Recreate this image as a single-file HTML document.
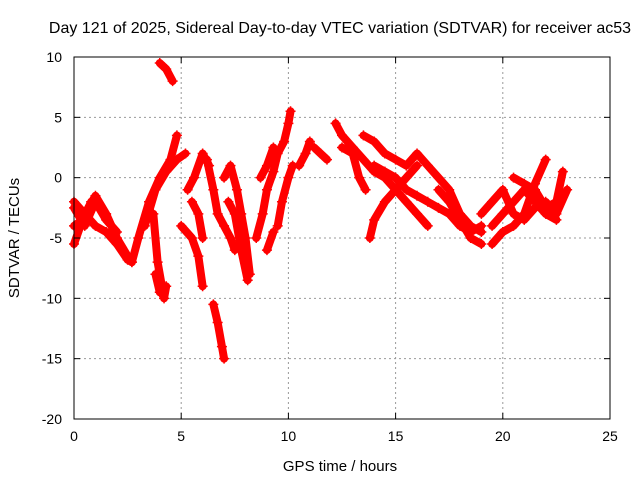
<!DOCTYPE html>
<html><head><meta charset="utf-8"><style>
body{margin:0;background:#fff}
svg{display:block;font-family:"Liberation Sans",sans-serif}
</style></head><body>
<svg id="chart" width="640" height="480" viewBox="0 0 640 480">
<text x="340" y="33" font-size="16" text-anchor="middle">Day 121 of 2025, Sidereal Day-to-day VTEC variation (SDTVAR) for receiver ac53</text>
<text x="340" y="471" font-size="15" text-anchor="middle">GPS time / hours</text>
<text transform="translate(19,238) rotate(-90)" font-size="15" text-anchor="middle">SDTVAR / TECUs</text>
<g id="grid"></g><g id="marks"></g><g id="axes"></g>
</svg>
<script>
const xTicks=[0,5,10,15,20,25];
const yTicks=[10,5,0,-5,-10,-15,-20];
const tracks=[
[[0,-2],[0.5,-3],[1,-4],[1.5,-4.5],[2,-5.5],[2.5,-6.8],[2.7,-7]],
[[0,-5.5],[0.5,-3],[1,-1.5],[1.5,-3],[2,-5],[2.5,-6.5]],
[[0,-2.5],[0.5,-4],[1,-2],[1.5,-3.5],[2,-4.5]],
[[0,-4],[0.4,-3.5],[0.8,-2],[1.2,-2.5]],
[[2.7,-7],[3,-5],[3.5,-2],[4,0],[4.5,1.5],[4.8,3.5]],
[[3.3,-4],[3.8,-1],[4.3,0.5],[4.8,1.5],[5.2,2]],
[[3.7,-3],[3.9,-7],[4.1,-9],[4.2,-10],[4.3,-9]],
[[4.0,9.5],[4.3,9],[4.6,8]],
[[3.8,-8],[4.0,-9.5]],
[[5,-4],[5.5,-5],[5.8,-6.5],[6,-9]],
[[5.3,-1],[5.6,0],[6,2],[6.3,1]],
[[5.5,-2],[5.8,-3],[6,-5]],
[[6.2,1.5],[6.5,-1],[6.7,-3],[7,-4],[7.3,-5],[7.5,-6]],
[[6.5,-10.5],[6.7,-12],[6.9,-14],[7,-15]],
[[7,0],[7.3,1],[7.6,-1],[7.8,-3],[8,-5],[8.2,-8]],
[[7.2,-2],[7.5,-3],[7.8,-6],[8.1,-8.5]],
[[8.5,-5],[8.8,-3],[9,-1],[9.3,0.5],[9.5,2],[9.8,3],[10,4.5],[10.1,5.5]],
[[8.7,0],[9,1],[9.3,2.5]],
[[9.5,-4],[9.7,-2],[10,0],[10.2,1]],
[[9,-6],[9.3,-4.5]],
[[10.5,1],[10.8,2],[11,3]],
[[11.2,2.5],[11.5,2],[11.8,1.5]],
[[12.2,4.5],[12.5,3.5],[13,2.5],[13.5,1.5],[14,0.5],[14.5,0],[15,-1],[15.5,-2],[16,-3],[16.5,-4]],
[[12.5,2.5],[13,2],[13.3,0],[13.6,-1]],
[[13.8,-5],[14,-3.5],[14.5,-2],[15,-1],[15.5,0],[16,1]],
[[13.5,3.5],[14,3],[14.5,2],[15,1.5],[15.5,1],[16,2],[16.5,1],[17,0],[17.5,-1],[18,-3],[18.5,-4],[19,-4.5]],
[[14,1],[14.5,0.5],[15,0],[15.5,-1],[16,-1.5],[16.5,-2],[17,-2.5],[17.5,-3],[18,-4],[18.5,-4.5],[19,-4]],
[[17,-1],[17.5,-2],[18,-3.5],[18.5,-5],[19,-5.5]],
[[19,-3],[19.5,-2],[20,-1],[20.5,-3],[21,-3.5],[21.5,-2.5],[22,-2],[22.5,-3],[23,-1]],
[[19.5,-5.5],[20,-4.5],[20.5,-4],[21,-3],[21.5,-0.5],[22,1.5]],
[[20.5,0],[21,-0.5],[21.5,-1],[22,-2.5],[22.5,-2],[22.8,0.5]],
[[19.5,-4],[20,-3],[20.5,-2],[21,-1],[21.5,-2],[22,-3],[22.5,-3.5]]
];
const L=74,R=610,T=57,B=419,X0=0,X1=25,Y0=-20,Y1=10;
const sx=v=>L+(v-X0)/(X1-X0)*(R-L);
const sy=v=>B-(v-Y0)/(Y1-Y0)*(B-T);
const NS="http://www.w3.org/2000/svg";
function mk(t,a,p){const e=document.createElementNS(NS,t);for(const k in a)e.setAttribute(k,a[k]);p.appendChild(e);return e;}
const grid=document.getElementById('grid'),axes=document.getElementById('axes'),marks=document.getElementById('marks');
xTicks.forEach(v=>{
 if(v>X0&&v<X1){const g=mk('line',{x1:sx(v),x2:sx(v),y1:T,y2:B,stroke:'#999','stroke-dasharray':'2,3'},grid);
 
 }
 mk('line',{x1:sx(v),x2:sx(v),y1:B,y2:B-6,stroke:'#000'},axes);
 mk('line',{x1:sx(v),x2:sx(v),y1:T,y2:T+6,stroke:'#000'},axes);
 const t=mk('text',{x:sx(v),y:B+22,'font-size':14,'text-anchor':'middle'},axes);t.textContent=v;
 
 
});
yTicks.forEach(v=>{
 if(v>Y0&&v<Y1){const g=mk('line',{x1:L,x2:R,y1:sy(v),y2:sy(v),stroke:'#999','stroke-dasharray':'2,3'},grid);
 
 }
 mk('line',{x1:L,x2:L+6,y1:sy(v),y2:sy(v),stroke:'#000'},axes);
 mk('line',{x1:R,x2:R-6,y1:sy(v),y2:sy(v),stroke:'#000'},axes);
 const t=mk('text',{x:L-12,y:sy(v)+5,'font-size':14,'text-anchor':'end'},axes);t.textContent=v;
 
 
});
const fr=mk('rect',{x:L,y:T,width:R-L,height:B-T,fill:'none',stroke:'#000'},axes);


tracks.forEach(tr=>{
 const pl=mk('polyline',{points:tr.map(p=>sx(p[0])+','+sy(p[1])).join(' '),fill:'none',stroke:'#f00','stroke-width':8,'stroke-linejoin':'round','stroke-linecap':'round'},marks);
 
 
 tr.forEach(p=>{
  const x=sx(p[0]),y=sy(p[1]);
  const m=mk('path',{d:`M${x-5},${y}H${x+5}M${x},${y-5}V${y+5}`,stroke:'#f00','stroke-width':1.5},marks);
  
  
 });
});
</script>
</body></html>
